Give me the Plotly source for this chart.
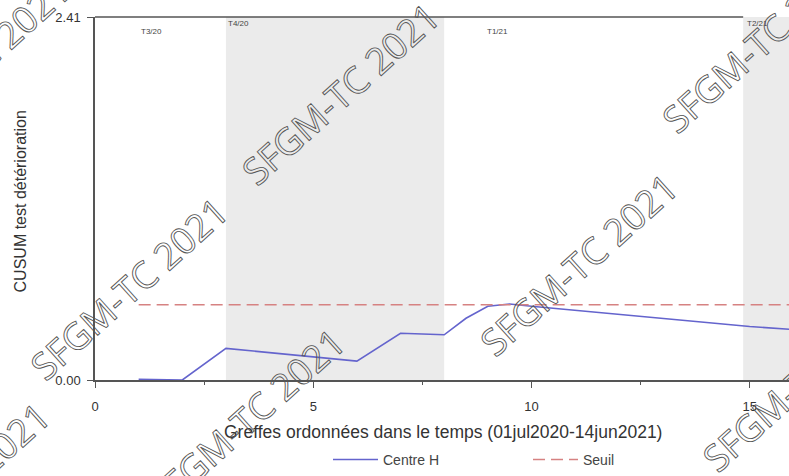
import plotly.graph_objects as go

# CUSUM series: graft order vs cumulative deterioration statistic
graft_order = [1, 2, 3, 6, 7, 8, 8.5, 9, 9.5, 10, 15, 16]
cusum_values = [0.005, 0.0, 0.21, 0.125, 0.31, 0.30, 0.41, 0.49, 0.505, 0.49, 0.355, 0.335]

# Alarm threshold
threshold_x = [1, 16]
threshold_y = [0.50, 0.50]

# Quarter shading (start, end) and quarter labels
shaded_quarters = [(3, 8), (14.85, 16.5)]
quarter_labels = ["T3/20", "T4/20", "T1/21", "T2/21"]
quarter_label_x = [1.0, 3.0, 8.93, 14.9]
quarter_label_y = [0.96, 0.983, 0.96, 0.983]

x_ticks = [0, 5, 10, 15]
y_ticks = [0.0, 2.41]
y_tick_text = ["0.00", "2.41"]

W, H = 789, 476
L, R, T, B = 95, 0, 17, 91
PW, PH = W - L - R, H - T - B

def px_to_paper(px, py):
    return (px - L) / PW, (H - B - py) / PH

fig = go.Figure()

fig.add_trace(go.Scatter(
    x=graft_order, y=cusum_values, mode="lines", name="Centre H",
    line=dict(color="rgb(100,100,205)", width=1.6),
))
fig.add_trace(go.Scatter(
    x=threshold_x, y=threshold_y, mode="lines", name="Seuil",
    line=dict(color="rgb(214,130,130)", width=1.5, dash="12px,6px"),
))

shapes = []
for x0, x1 in shaded_quarters:
    shapes.append(dict(type="rect", xref="x", yref="paper", x0=x0, x1=x1, y0=0, y1=1,
                       fillcolor="#ebebeb", line=dict(width=0), layer="below"))
# top frame line over the unshaded part
shapes.append(dict(type="line", xref="x", yref="paper", x0=0, x1=14.85, y0=1, y1=1,
                   line=dict(color="#555", width=1.5)))

annotations = []
for lab, lx, ly in zip(quarter_labels, quarter_label_x, quarter_label_y):
    annotations.append(dict(text=lab, x=lx, y=ly, xref="x", yref="paper",
                            xanchor="left", yanchor="middle", showarrow=False,
                            font=dict(size=8, color="#444")))

# axis titles
annotations.append(dict(text="CUSUM test détérioration", x=px_to_paper(20, 0)[0],
                        y=px_to_paper(0, 204)[1],
                        xref="paper", yref="paper", textangle=-90, showarrow=False,
                        xanchor="center", yanchor="middle",
                        font=dict(size=16, color="#333")))
annotations.append(dict(text="Greffes ordonnées dans le temps (01jul2020-14jun2021)",
                        x=px_to_paper(443, 0)[0], y=px_to_paper(0, 438)[1],
                        xref="paper", yref="paper", showarrow=False,
                        xanchor="center", yanchor="middle",
                        font=dict(size=17.5, color="#333")))

# diagonal SFGM-TC watermarks
marks = [(340, 95), (760, 42), (128, 292), (578, 268), (245, 425), (800, 385),
         (-30, 68), (-50, 500)]
for mx, my in marks:
    ax_, ay_ = px_to_paper(mx, my)
    annotations.append(dict(text="SFGM-TC 2021", x=ax_, y=ay_, xref="paper", yref="paper",
                            showarrow=False, textangle=-42, xanchor="center", yanchor="middle",
                            font=dict(size=37, family="Open Sans", color="rgba(90,90,90,0.6)")))

fig.update_layout(
    width=W, height=H,
    margin=dict(l=L, r=R, t=T, b=B, pad=0),
    paper_bgcolor="white", plot_bgcolor="white",
    font=dict(family="Liberation Sans, Arial, sans-serif", color="#333", size=13),
    shapes=shapes, annotations=annotations,
    showlegend=True,
    legend=dict(orientation="h", x=px_to_paper(328, 0)[0], y=px_to_paper(0, 466)[1],
                xanchor="left", yanchor="middle", font=dict(size=14, color="#444"),
                bgcolor="rgba(0,0,0,0)", itemwidth=45,
                entrywidth=140, entrywidthmode="pixels"),
)
fig.update_xaxes(range=[0, 15.9], tickvals=x_ticks, ticks="outside", ticklen=6,
                 tickwidth=1.2, tickcolor="#555", showline=True, linecolor="#555",
                 linewidth=1.5, showgrid=False, zeroline=False, ticklabelstandoff=8,
                 tickfont=dict(size=13, color="#333"),
                 minor=dict(tickvals=[2.5, 7.5, 12.5], ticks="outside", ticklen=3,
                            tickcolor="#555", showgrid=False))
fig.update_yaxes(range=[0, 2.41], tickvals=y_ticks, ticktext=y_tick_text, ticks="outside",
                 ticklen=6, tickwidth=1.2, tickcolor="#555", showline=True, linecolor="#555",
                 linewidth=1.5, showgrid=False, zeroline=False, ticklabelstandoff=4,
                 tickfont=dict(size=13, color="#333"))

outline_js = """
var gd = document.getElementById('{plot_id}');
function outlineMarks(){
  gd.querySelectorAll('text.annotation-text').forEach(function(t){
    if (t.textContent.indexOf('SFGM') === 0) {
      t.style.fill = 'none';
      t.style.stroke = 'rgb(85,85,85)';
      t.style.strokeWidth = '0.9px';
    }
  });
}
outlineMarks();
gd.on('plotly_afterplot', outlineMarks);
"""

fig.write_html("out.html", post_script=outline_js)
